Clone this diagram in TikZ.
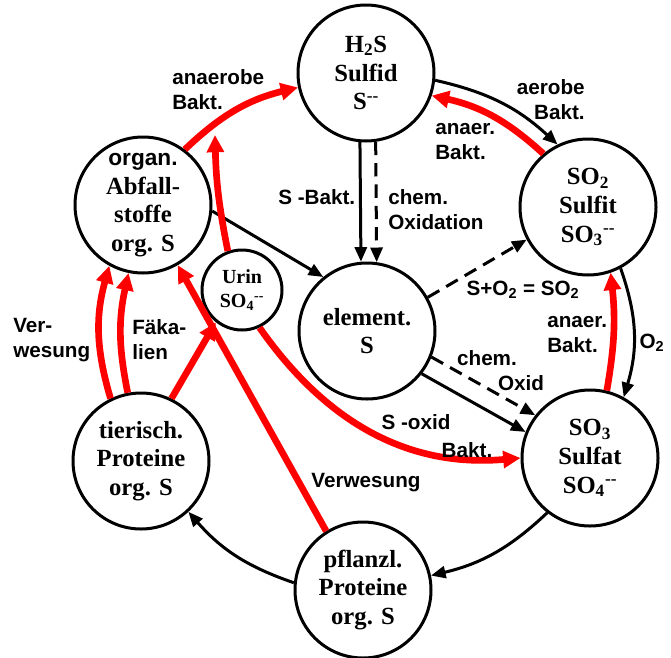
\documentclass[tikz,border=0pt]{standalone}
\usepackage{fontspec}
\setmainfont{Liberation Serif}
\setsansfont{Liberation Sans}
\usetikzlibrary{arrows.meta}

\begin{document}
\begin{tikzpicture}[x=0.75pt,y=0.75pt,yscale=-1,xscale=1,
  stoff/.style={draw,circle,line width=2.25pt,minimum size=102pt,inner sep=0pt,align=center,
    font=\bfseries\fontsize{18.5}{21.5}\selectfont},
  schwarz/.style={line width=2.25pt,-{Triangle[length=11pt,width=9pt]}},
  strich/.style={dash pattern=on 10pt off 6pt},
  rot/.style={draw=red,color=red,line width=5pt,-{Triangle[length=13pt,width=12.5pt]}},
  lbl/.style={inner sep=0pt,align=left,font=\sffamily\bfseries\fontsize{15.5}{18.75}\selectfont}]
\useasboundingbox (0,0) rectangle (671,657);

% Kreise
\node[stoff] (h2s) at (366,73) {H\textsubscript{2}S\\Sulfid\\S\textsuperscript{-{}-}};
\node[stoff] (so2) at (588,207) {SO\textsubscript{2}\\Sulfit\\SO\textsubscript{3}\textsuperscript{-{}-}};
\node[stoff] (so3) at (590,458) {SO\textsubscript{3}\\Sulfat\\SO\textsubscript{4}\textsuperscript{-{}-}};
\node[stoff] (pfl) at (363,590) {pflanzl.\\Proteine\\org. S};
\node[stoff] (tier) at (141,461) {tierisch.\\Proteine\\org. S};
\node[stoff] (abf) at (143,205) {\sffamily\fontsize{17}{20}\selectfont organ.\\Abfall-\\stoffe\\\rmfamily\fontsize{18.5}{20}\selectfont org. S};
\node[stoff] (elem) at (367,331) {element.\\S};
\node[stoff,minimum size=60pt,font=\bfseries\fontsize{15}{17.5}\selectfont] (urin) at (242,290) {Urin\\SO\textsubscript{4}\textsuperscript{-{}-}};
\coordinate (urtip) at (215,135);

% schwarze Pfeile (yscale=-1: bend left/right vertauscht)
\draw[schwarz] (h2s.-6) to[bend right=15] (so2.116);
\draw[schwarz] (h2s.-95) -- (elem.95);
\draw[schwarz,strich] (h2s.-82) -- (elem.82);
\draw[schwarz] (abf.-5) -- (elem.129);
\draw[schwarz,strich] (elem.29) -- (so2.208);
\draw[schwarz] (elem.-38) -- (so3.158);
\draw[schwarz,strich] (elem.-22) -- (so3.142);
\draw[schwarz] (so2.-62) to[bend right=18] (so3.61);
\draw[schwarz] (so3.232) to[bend right=15] (pfl.12);
\draw[schwarz] (pfl.174) to[bend right=15] (tier.-47);

% rote Pfeile
\draw[rot] (so2.130) to[bend left=15] (h2s.-19);
\draw[rot] (abf.53) to[bend right=15] (h2s.192);
\draw[rot] (so3.76) to[bend left=8] (so2.-71);
\draw[rot] (urin.-65) to[out=55,in=175] (so3.180);
\draw[rot] (urin.110) to[bend right=5] (urtip);
\draw[rot] (pfl.122) -- (abf.-60);
\draw[rot] (tier.64) -- (urin.231);
\draw[rot] (tier.116) to[bend right=16] (abf.-119);
\draw[rot] (tier.101) to[bend right=12] (abf.-102);

% Beschriftung
\node[lbl,anchor=west] (lanaerob) at (172,90) {anaerobe\\Bakt.};
\node[lbl,anchor=east,align=right] (laerob) at (585,100) {aerobe\\Bakt.};
\node[lbl,anchor=west] (lanaer) at (435,142) {anaer.\\Bakt.};
\node[lbl,anchor=west] (lsbakt) at (278,197) {S -Bakt.};
\node[lbl,anchor=west] (lchemox) at (388,210) {chem.\\Oxidation};
\node[lbl] (lso2) at (523,290) {S+O\textsubscript{2} = SO\textsubscript{2}};
\node[lbl,anchor=west] (lanaer2) at (547,335) {anaer.\\Bakt.};
\node[lbl] (lo2) at (652,343) {O\textsubscript{2}};
\node[lbl] (lchem) at (487,358) {chem.};
\node[lbl] (loxid) at (521,383) {Oxid};
\node[lbl] (lsoxid) at (416,422) {S -oxid};
\node[lbl] (lsbakt2) at (467,450) {Bakt.};
\node[lbl] (lverw) at (366,483) {Verwesung};
\node[lbl,anchor=west] (lverw2) at (13,340) {Ver-\\wesung};
\node[lbl,anchor=west] (lfaek) at (132,340) {Fäka-\\lien};

\end{tikzpicture}
\end{document}
